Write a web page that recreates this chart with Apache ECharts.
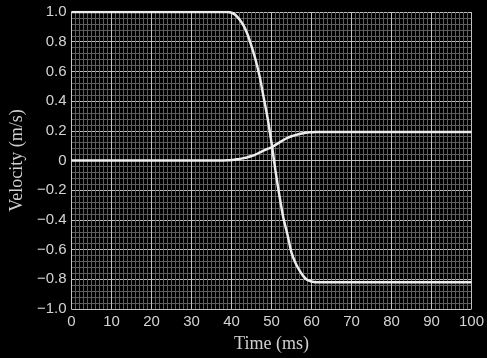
<!DOCTYPE html>
<html>
<head>
<meta charset="utf-8">
<script src="https://cdn.jsdelivr.net/npm/echarts@6/dist/echarts.min.js"></script>
<style>
  html, body { margin: 0; padding: 0; background: #000; }
  #chart { width: 487px; height: 358px; }
</style>
</head>
<body>
<div id="chart"></div>
<script>
// time samples (ms)
const timeMs = [0, 36, 38, 39, 40, 41, 42, 43, 44, 45, 46, 47, 48, 49, 50,
  51, 52, 53, 54, 55, 56, 57, 58, 59, 60, 61, 62, 100];
// falling curve
const velA = [1.0, 1.0, 1.0, 1.0, 0.995, 0.98, 0.95, 0.91, 0.85, 0.77, 0.68, 0.57, 0.43, 0.29, 0.12,
  -0.07, -0.24, -0.39, -0.5, -0.62, -0.69, -0.74, -0.78, -0.805, -0.815, -0.82, -0.82, -0.82];
// rising curve
const velB = [0, 0, 0, 0.001, 0.003, 0.007, 0.011, 0.016, 0.022, 0.03, 0.04, 0.053, 0.066, 0.078, 0.088,
  0.105, 0.122, 0.138, 0.152, 0.163, 0.171, 0.178, 0.184, 0.188, 0.19, 0.192, 0.192, 0.192];

const pairs = (ys) => timeMs.map((t, i) => [t, ys[i]]);

const chart = echarts.init(document.getElementById("chart"));

const labelStyle = {
  color: "#d4d4d4",
  fontFamily: "Liberation Sans",
  fontSize: 15,
};
const nameStyle = { color: "#d0d0d0", fontFamily: "Liberation Serif", fontSize: 18 };

const option = {
  backgroundColor: "#000",
  animation: false,
  grid: { left: 69, right: 14, top: 12, bottom: 46 },
  xAxis: {
    type: "value",
    min: 0,
    max: 100,
    interval: 10,
    name: "Time (ms)",
    nameLocation: "middle",
    nameGap: 26,
    nameTextStyle: nameStyle,
    axisLine: { show: true, lineStyle: { color: "#c4c4c4", width: 1 } },
    axisTick: { show: false },
    axisLabel: { ...labelStyle, margin: 5 },
    splitLine: { show: true, lineStyle: { color: "#c0c0c0", width: 1 } },
    minorTick: { show: false, splitNumber: 10 },
    minorSplitLine: { show: true, lineStyle: { color: "#5e5e5e", width: 1 } },
  },
  yAxis: {
    type: "value",
    min: -1,
    max: 1,
    interval: 0.2,
    name: "Velocity (m/s)",
    nameLocation: "middle",
    nameGap: 45,
    nameTextStyle: nameStyle,
    axisLine: { show: true, lineStyle: { color: "#c4c4c4", width: 1 } },
    axisTick: { show: false },
    axisLabel: {
      ...labelStyle,
      margin: 5,
      formatter: (v) => {
        const r = Math.round(v * 10) / 10;
        if (r === 0) return "0";
        return (r < 0 ? "\u2212" : "") + Math.abs(r).toFixed(1);
      },
    },
    splitLine: { show: true, lineStyle: { color: "#c0c0c0", width: 1 } },
    minorTick: { show: false, splitNumber: 5 },
    minorSplitLine: { show: true, lineStyle: { color: "#5e5e5e", width: 1 } },
  },
  series: [
    {
      name: "A",
      type: "line",
      data: pairs(velA),
      smooth: 0.3,
      symbol: "none",
      lineStyle: { color: "#ececec", width: 2.5 },
    },
    {
      name: "B",
      type: "line",
      data: pairs(velB),
      smooth: 0.3,
      symbol: "none",
      lineStyle: { color: "#ececec", width: 2.5 },
    },
  ],
};

chart.setOption(option);
</script>
</body>
</html>
